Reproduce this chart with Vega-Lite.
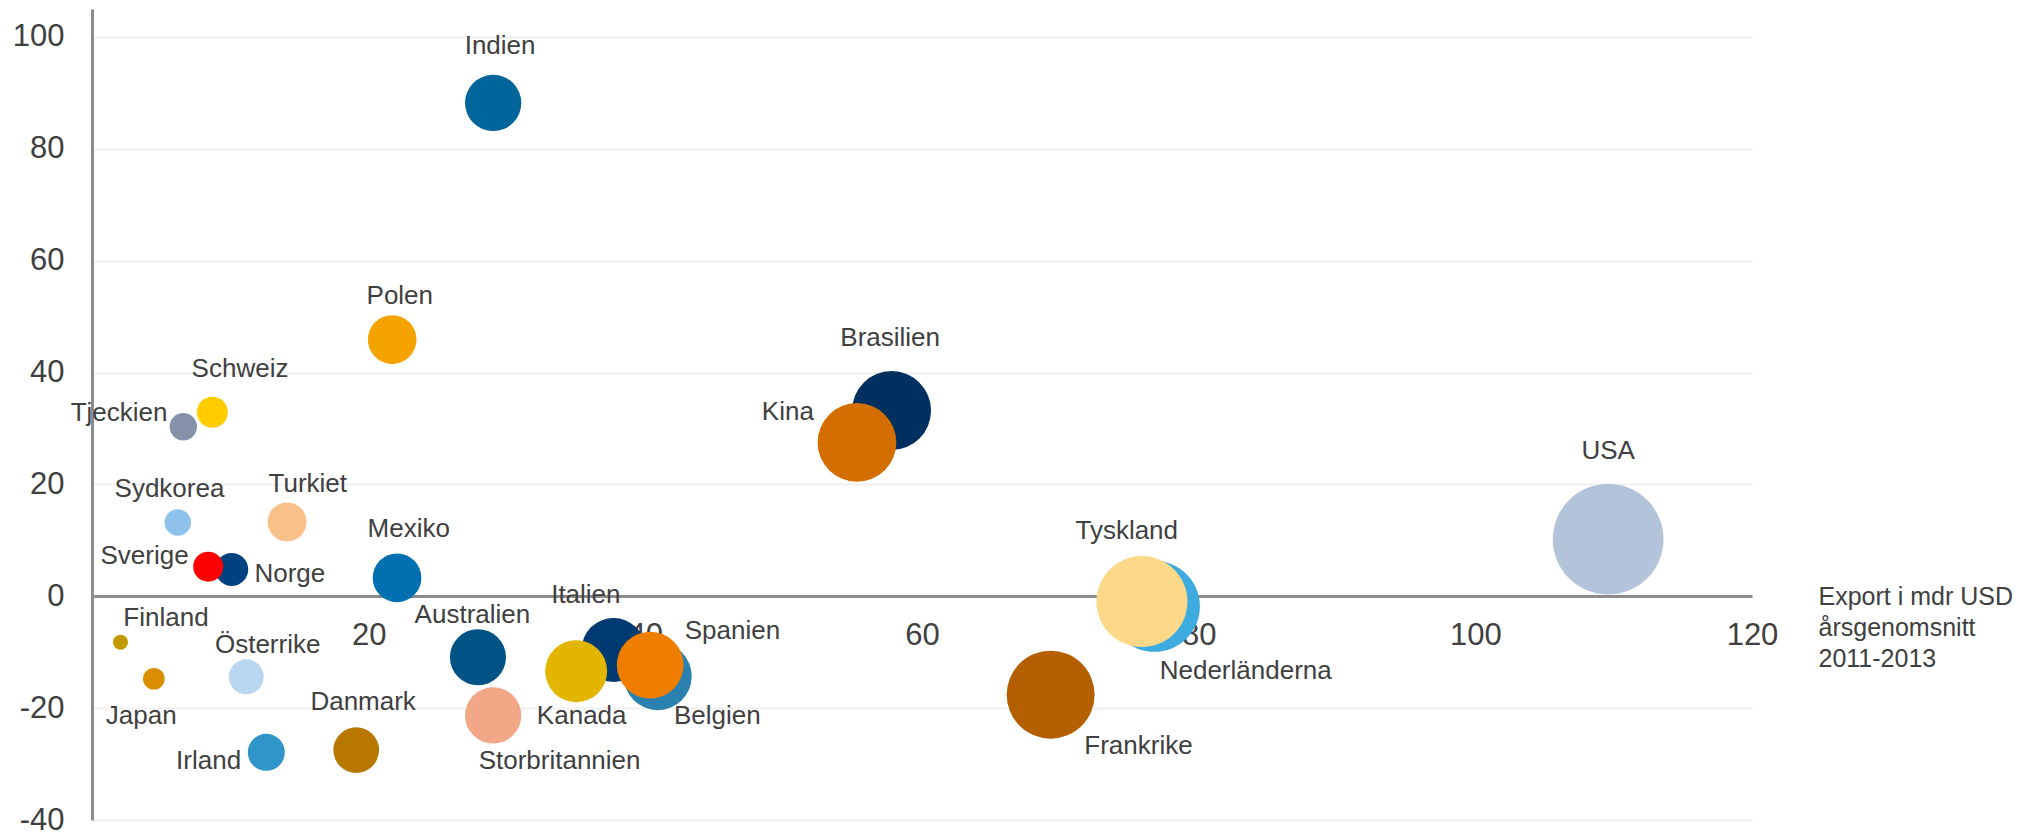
{
  "$schema": "https://vega.github.io/schema/vega-lite/v6.json",
  "autosize": {"type": "none"},
  "padding": {"left": 92, "top": 9, "right": 292, "bottom": 15},
  "width": 1660,
  "height": 811,
  "background": "#ffffff",
  "config": {
    "view": {"stroke": null},
    "font": "Liberation Sans"
  },
  "data": {
    "values": [
      {"land": "USA", "x": 109.6, "y": 10.2, "size": 122.5, "lx": 109.6, "ly": 25.9},
      {"land": "Indien", "x": 29.0, "y": 88.2, "size": 31.7, "lx": 29.5, "ly": 98.3},
      {"land": "Polen", "x": 21.7, "y": 45.9, "size": 23.7, "lx": 22.25, "ly": 53.75},
      {"land": "Tjeckien", "x": 6.6, "y": 30.3, "size": 7.5, "lx": 1.96, "ly": 32.8},
      {"land": "Schweiz", "x": 8.7, "y": 32.9, "size": 9.6, "lx": 10.7, "ly": 40.65},
      {"land": "Sydkorea", "x": 6.2, "y": 13.2, "size": 7.0, "lx": 5.6, "ly": 19.1},
      {"land": "Turkiet", "x": 14.1, "y": 13.3, "size": 15.2, "lx": 15.6, "ly": 20.0},
      {"land": "Norge", "x": 10.1, "y": 4.8, "size": 10.9, "lx": 14.3, "ly": 3.9},
      {"land": "Sverige", "x": 8.4, "y": 5.3, "size": 9.0, "lx": 3.8, "ly": 7.15},
      {"land": "Mexiko", "x": 22.05, "y": 3.3, "size": 23.7, "lx": 22.9, "ly": 12.05},
      {"land": "Finland", "x": 2.06, "y": -8.2, "size": 2.25, "lx": 5.35, "ly": -3.86},
      {"land": "Japan", "x": 4.47, "y": -14.75, "size": 4.7, "lx": 3.56, "ly": -21.33},
      {"land": "Österrike", "x": 11.15, "y": -14.4, "size": 12.2, "lx": 12.7, "ly": -8.8},
      {"land": "Irland", "x": 12.6, "y": -27.9, "size": 13.7, "lx": 8.43, "ly": -29.5},
      {"land": "Danmark", "x": 19.1, "y": -27.5, "size": 20.9, "lx": 19.6, "ly": -18.95},
      {"land": "Australien", "x": 27.9, "y": -10.9, "size": 31.4, "lx": 27.5, "ly": -3.27},
      {"land": "Storbritannien", "x": 29.0, "y": -21.3, "size": 31.7, "lx": 33.8, "ly": -29.4},
      {"land": "Italien", "x": 37.7, "y": -9.6, "size": 41.0, "lx": 35.7, "ly": 0.3},
      {"land": "Kanada", "x": 35.0, "y": -13.4, "size": 38.4, "lx": 35.4, "ly": -21.45},
      {"land": "Belgien", "x": 40.9, "y": -14.3, "size": 46.0, "lx": 45.2, "ly": -21.33},
      {"land": "Spanien", "x": 40.35, "y": -12.3, "size": 44.5, "lx": 46.3, "ly": -6.26},
      {"land": "Brasilien", "x": 57.8, "y": 33.2, "size": 62.4, "lx": 57.7, "ly": 46.2},
      {"land": "Kina", "x": 55.3, "y": 27.5, "size": 62.0, "lx": 50.3, "ly": 32.9},
      {"land": "Nederländerna", "x": 76.8, "y": -1.8, "size": 82.8, "lx": 83.4, "ly": -13.4},
      {"land": "Tyskland", "x": 75.9, "y": -0.95, "size": 82.8, "lx": 74.8, "ly": 11.6},
      {"land": "Frankrike", "x": 69.3, "y": -17.6, "size": 77.4, "lx": 75.65, "ly": -26.8}
    ]
  },
  "layer": [
    {
      "mark": {"type": "point", "filled": true, "shape": "circle", "opacity": 1, "strokeWidth": 0},
      "encoding": {
        "x": {
          "field": "x", "type": "quantitative",
          "scale": {"domain": [0, 120], "nice": false, "zero": false},
          "axis": {
            "orient": "bottom",
            "offset": -224,
            "values": [20, 40, 60, 80, 100, 120],
            "ticks": false,
            "grid": false,
            "domainColor": "#8c8c8c",
            "domainWidth": 3,
            "labelFontSize": 31,
            "labelColor": "#404040",
            "labelPadding": 24,
            "labelFlush": false,
            "labelOverlap": false,
            "title": ["Export i mdr USD", "årsgenomsnitt", "2011-2013"],
            "titleFontSize": 25,
            "titleFontWeight": "normal",
            "titleColor": "#404040",
            "titleAlign": "left",
            "titleAnchor": null,
            "titleAngle": 0,
            "titleBaseline": "middle",
            "titleLineHeight": 31,
            "titleX": 1726,
            "titleY": 0
          }
        },
        "y": {
          "field": "y", "type": "quantitative",
          "scale": {"domain": [-40, 105], "nice": false, "zero": false},
          "axis": {
            "values": [-40, -20, 0, 20, 40, 60, 80, 100],
            "labelExpr": "'' + datum.value",
            "ticks": false,
            "grid": true,
            "gridColor": "#f0f0f0",
            "gridWidth": 2,
            "domainColor": "#8c8c8c",
            "domainWidth": 3,
            "labelFontSize": 31,
            "labelColor": "#404040",
            "labelPadding": 28,
            "labelOverlap": false,
            "title": null
          }
        },
        "size": {
          "field": "size", "type": "quantitative",
          "scale": {"type": "linear", "domain": [0, 100], "range": [0, 10000], "zero": true},
          "legend": null
        },
        "color": {
          "field": "land", "type": "nominal", "legend": null,
          "scale": {
            "domain": ["USA", "Indien", "Polen", "Tjeckien", "Schweiz", "Sydkorea", "Turkiet", "Norge", "Sverige", "Mexiko", "Finland", "Japan", "Österrike", "Irland", "Danmark", "Australien", "Storbritannien", "Italien", "Kanada", "Belgien", "Spanien", "Brasilien", "Kina", "Nederländerna", "Tyskland", "Frankrike"],
            "range": ["#b3c3d9", "#00659a", "#f5a300", "#8591a9", "#ffcc00", "#8ec2ea", "#f9c08a", "#00427f", "#ff0000", "#0070b0", "#c09a00", "#db8d00", "#b8d6f0", "#3095c8", "#b87800", "#005485", "#f2a787", "#003a73", "#e1b500", "#2a80ae", "#ef7d00", "#00305f", "#d46e00", "#3dabe0", "#fdd888", "#b45f00"]
          }
        }
      }
    },
    {
      "mark": {"type": "text", "fontSize": 26, "color": "#404040", "align": "center", "baseline": "middle", "font": "Liberation Sans"},
      "encoding": {
        "x": {"field": "lx", "type": "quantitative"},
        "y": {"field": "ly", "type": "quantitative"},
        "text": {"field": "land", "type": "nominal"}
      }
    }
  ]
}
